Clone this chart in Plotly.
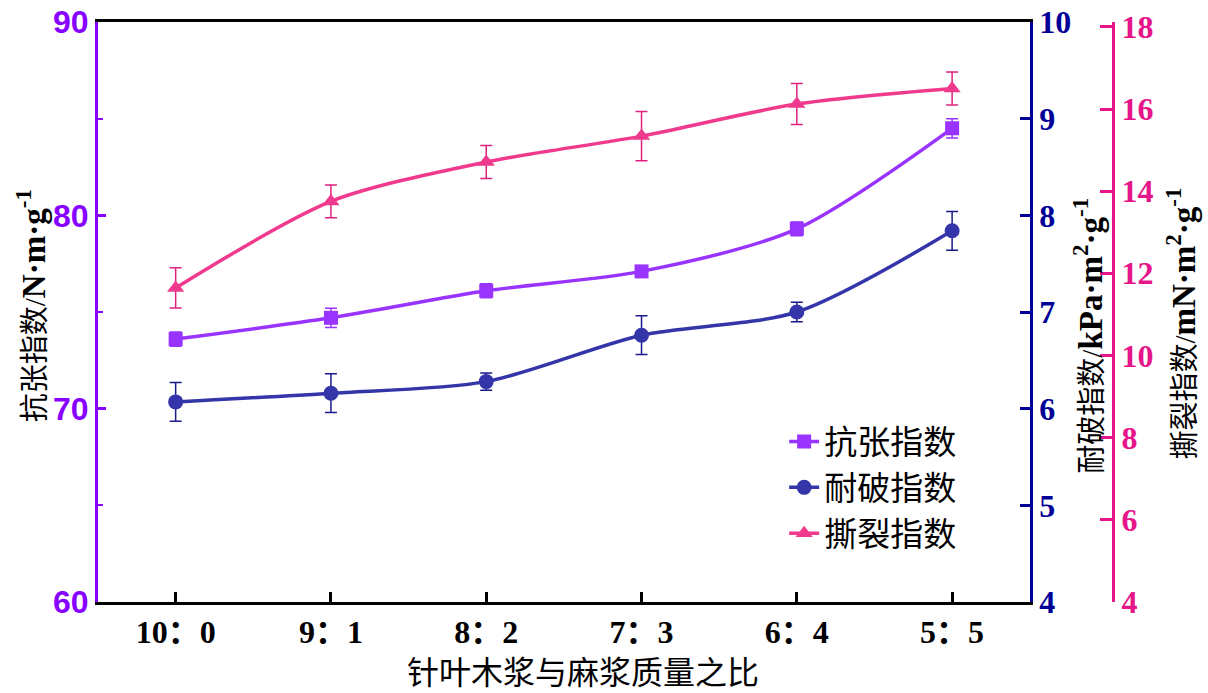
import plotly.graph_objects as go

categories = ["10：0", "9：1", "8：2", "7：3", "6：4", "5：5"]

tensile = [73.6, 74.7, 76.1, 77.1, 79.3, 84.5]
tensile_err = [0.37, 0.5, 0.36, 0.2, 0.35, 0.5]

burst = [6.07, 6.16, 6.28, 6.76, 7.0, 7.84]
burst_err = [0.2, 0.2, 0.09, 0.2, 0.1, 0.2]

tear = [11.64, 13.75, 14.71, 15.34, 16.12, 16.5]
tear_err = [0.49, 0.4, 0.4, 0.6, 0.5, 0.4]

names = ["抗张指数", "耐破指数", "撕裂指数"]

left_ticks = [60, 70, 80, 90]
burst_ticks = [4, 5, 6, 7, 8, 9, 10]
tear_ticks = [4, 6, 8, 10, 12, 14, 16, 18]

C_T_AX = "#8800FF"
C_T = "#9933FF"
C_B_AX = "#000099"
C_B = "#3535AA"
C_R_AX = "#E6168A"
C_R = "#F03A8E"

SERIF = "Liberation Serif"
CJK = "Noto Sans CJK SC"


def bold(vals):
    return ["<b>%s</b>" % v for v in vals]


fig = go.Figure()

fig.add_trace(go.Scatter(
    x=categories, y=tensile, name=names[0], mode="lines+markers",
    line=dict(color=C_T, width=3.5, shape="spline", smoothing=0.8),
    marker=dict(symbol="square", size=14, color=C_T),
    error_y=dict(type="data", array=tensile_err, color=C_T, thickness=1.5, width=6),
    yaxis="y"))

fig.add_trace(go.Scatter(
    x=categories, y=burst, name=names[1], mode="lines+markers",
    line=dict(color=C_B, width=3.5, shape="spline", smoothing=0.8),
    marker=dict(symbol="circle", size=15, color=C_B),
    error_y=dict(type="data", array=burst_err, color="#1a1a8c", thickness=1.5, width=6),
    yaxis="y2"))

fig.add_trace(go.Scatter(
    x=categories, y=tear, name=names[2], mode="lines+markers",
    line=dict(color=C_R, width=3.5, shape="spline", smoothing=0.8),
    marker=dict(symbol="triangle-up", size=15, color=C_R),
    error_y=dict(type="data", array=tear_err, color="#E0207E", thickness=1.5, width=6),
    yaxis="y3"))

fig.update_layout(
    width=1208, height=693,
    margin=dict(l=98, r=95, t=22, b=91, autoexpand=False),
    paper_bgcolor="white", plot_bgcolor="white",
    showlegend=True,
    legend=dict(x=0.676, y=0.325, xanchor="left", yanchor="top",
                bgcolor="rgba(0,0,0,0)",
                font=dict(family=CJK, size=33, color="black")),
    xaxis=dict(
        domain=[0, 0.918], automargin=False,
        type="category", range=[-0.5, 5.5],
        tickvals=categories, ticktext=bold(categories),
        showline=True, linecolor="black", linewidth=3, mirror=True,
        ticks="inside", ticklen=10, tickwidth=2.5, tickcolor="black",
        tickfont=dict(family=SERIF + ", " + CJK, size=32, color="black", weight="bold"),
        showgrid=False, zeroline=False,
    ),
    yaxis=dict(
        range=[60, 90], tickvals=left_ticks, ticktext=bold(left_ticks), automargin=False,
        showline=True, linecolor=C_T_AX, linewidth=3,
        ticks="inside", ticklen=8, tickwidth=2.5, tickcolor=C_T_AX,
        minor=dict(ticks="inside", ticklen=5, tickwidth=2, tickcolor=C_T_AX, tickvals=[65, 75, 85]),
        tickfont=dict(family="Liberation Sans", size=32, color=C_T_AX, weight="bold"),
        showgrid=False, zeroline=False,
    ),
    yaxis2=dict(
        range=[4, 10], tickvals=burst_ticks, ticktext=bold(burst_ticks), automargin=False,
        overlaying="y", side="right", anchor="x",
        showline=True, linecolor=C_B_AX, linewidth=3,
        ticks="inside", ticklen=10, tickwidth=2.5, tickcolor=C_B_AX,
        tickfont=dict(family=SERIF, size=32, color=C_B_AX, weight="bold"),
        showgrid=False, zeroline=False,
    ),
    yaxis3=dict(
        range=[3.99, 18.12], tickvals=tear_ticks, ticktext=bold(tear_ticks), automargin=False,
        overlaying="y", side="right", anchor="free", position=1.0,
        showline=True, linecolor=C_R_AX, linewidth=3,
        ticks="inside", ticklen=12, tickwidth=2.5, tickcolor=C_R_AX,
        tickfont=dict(family=SERIF, size=32, color=C_R_AX, weight="bold"),
        showgrid=False, zeroline=False,
    ),
)

ann_font = dict(family=SERIF + ", " + CJK, size=33, color="black")
cn = '<span style="font-size:29px">%s</span>'

# x-axis title
fig.add_annotation(
    text="针叶木浆与麻浆质量之比",
    xref="paper", yref="paper", x=0.478, y=-0.118, xanchor="center", yanchor="middle",
    showarrow=False, font=dict(family=CJK, size=32, color="black"))

fig.add_annotation(
    text=cn % "抗张指数/" + "<b>N·m·g<sup>-1</sup></b>", textangle=-90,
    xref="paper", yref="paper", x=-0.066, y=0.51, xanchor="center", yanchor="middle",
    showarrow=False, font=ann_font)
fig.add_annotation(
    text=cn % "耐破指数/" + "<b>kPa·m<sup>2</sup>·g<sup>-1</sup></b>", textangle=-90,
    xref="paper", yref="paper", x=0.9758, y=0.46, xanchor="center", yanchor="middle",
    showarrow=False, font=ann_font)
fig.add_annotation(
    text=cn % "撕裂指数/" + "<b>mN·m<sup>2</sup>·g<sup>-1</sup></b>", textangle=-90,
    xref="paper", yref="paper", x=1.067, y=0.48, xanchor="center", yanchor="middle",
    showarrow=False, font=ann_font)

fig.write_html("out.html")
